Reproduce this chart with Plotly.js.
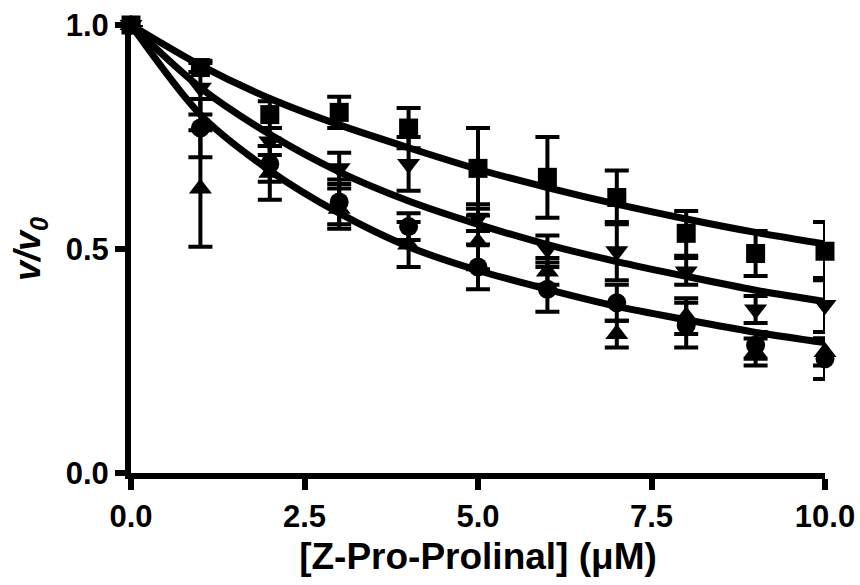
<!DOCTYPE html>
<html>
<head>
<meta charset="utf-8">
<script src="https://cdn.plot.ly/plotly-3.0.1.min.js"></script>
<style>html,body{margin:0;padding:0;background:#fff;}#chart{width:860px;height:585px;}</style>
</head>
<body>
<div id="chart"></div>
<script>
// Concentration of Z-Pro-Prolinal (µM)
const conc = [0, 1, 2, 3, 4, 5, 6, 7, 8, 9, 10];

// Data series (v/v0) and error bars
const squareY   = [1.0, 0.905, 0.80, 0.805, 0.77, 0.68, 0.66, 0.615, 0.535, 0.49, 0.495];
const squareErr = [0, 0.01, 0.03, 0.035, 0.045, 0.09, 0.09, 0.06, 0.05, 0.05, 0.065];
const downY     = [1.0, 0.86, 0.74, 0.68, 0.69, 0.57, 0.50, 0.495, 0.45, 0.365, 0.375];
const downErr   = [0, 0.06, 0.03, 0.035, 0.06, 0.03, 0.03, 0.065, 0.03, 0.03, 0.06];
const upY       = [1.0, 0.635, 0.67, 0.59, 0.51, 0.515, 0.45, 0.31, 0.35, 0.27, 0.27];
const upErr     = [0, 0.13, 0.06, 0.045, 0.05, 0.06, 0.03, 0.03, 0.04, 0.03, 0.03];
const circleY   = [1.0, 0.77, 0.69, 0.605, 0.55, 0.46, 0.41, 0.38, 0.33, 0.285, 0.255];
const circleErr = [0, 0.065, 0.04, 0.05, 0.03, 0.05, 0.05, 0.04, 0.05, 0.03, 0.045];

// Fitted curves
const fitTop    = [1.0, 0.91, 0.836, 0.777, 0.726, 0.678, 0.637, 0.600, 0.567, 0.537, 0.511];
const fitMid    = [1.0, 0.86, 0.756, 0.672, 0.607, 0.555, 0.510, 0.472, 0.439, 0.408, 0.383];
const fitBottom = [1.0, 0.80, 0.675, 0.58, 0.505, 0.452, 0.41, 0.372, 0.342, 0.314, 0.291];

const lineStyle = {color: '#000', width: 7, shape: 'spline', smoothing: 0.8};
function fit(y) {
  return {x: conc, y: y, mode: 'lines', line: lineStyle, hoverinfo: 'skip', showlegend: false, cliponaxis: false};
}
function pts(y, err, symbol, size) {
  return {
    x: conc, y: y, mode: 'markers', showlegend: false, cliponaxis: false,
    marker: {symbol: symbol, size: size, color: '#000'},
    error_y: {type: 'data', array: err, visible: true, color: '#000', thickness: 4, width: 12}
  };
}

const traces = [
  fit(fitTop), fit(fitMid), fit(fitBottom),
  pts(upY, upErr, 'triangle-up', 20),
  pts(circleY, circleErr, 'circle', 19),
  pts(downY, downErr, 'triangle-down', 20),
  pts(squareY, squareErr, 'square', 19)
];

const fam = 'Liberation Sans, Arial, sans-serif';
const tickFont = {family: fam, size: 31, color: '#000', weight: 'bold'};
const layout = {
  width: 860, height: 585,
  margin: {l: 131, r: 35, t: 25, b: 112},
  paper_bgcolor: '#fff', plot_bgcolor: '#fff',
  showlegend: false,
  xaxis: {
    range: [0, 10], tickvals: [0, 2.5, 5, 7.5, 10], tickformat: '.1f',
    showgrid: false, zeroline: false, showline: true, linecolor: '#000', linewidth: 6,
    ticks: 'outside', ticklen: 11, tickwidth: 6, tickcolor: '#000',
    tickfont: tickFont,
    title: {text: '[Z-Pro-Prolinal] (μM)', font: {family: fam, size: 37, color: '#000', weight: 'bold'}, standoff: 12}
  },
  yaxis: {
    range: [0, 1], tickvals: [0, 0.5, 1], tickformat: '.1f',
    showgrid: false, zeroline: false, showline: true, linecolor: '#000', linewidth: 6,
    ticks: 'outside', ticklen: 10, tickwidth: 6, tickcolor: '#000',
    tickfont: tickFont,
    title: {text: '<i>v/v</i><sub><i>0</i></sub>', font: {family: fam, size: 36, color: '#000', weight: 'bold'}, standoff: 16}
  }
};

Plotly.newPlot('chart', traces, layout, {staticPlot: true, displayModeBar: false});
</script>
</body>
</html>
